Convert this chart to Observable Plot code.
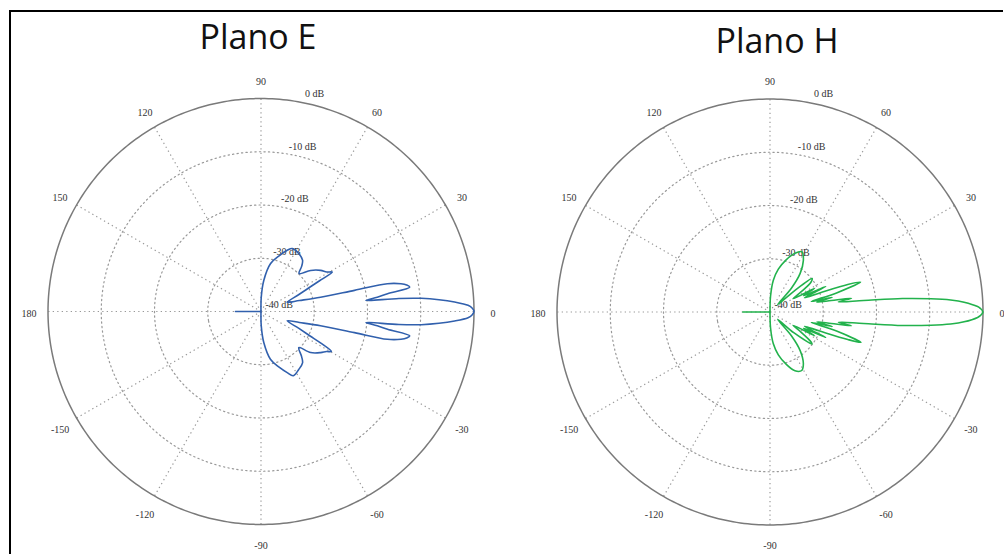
<!DOCTYPE html>
<html>
<head>
<meta charset="utf-8">
<script src="https://cdn.jsdelivr.net/npm/d3@7"></script>
<script src="https://cdn.jsdelivr.net/npm/@observablehq/plot@0.6"></script>
<style>
  html, body { margin: 0; padding: 0; background: #fff; }
  body { width: 1004px; height: 554px; overflow: hidden; position: relative; font-family: "Open Sans", sans-serif; }
  #frame { position: absolute; left: 9px; top: 10px; width: 992px; height: 560px; border-left: 2px solid #000; border-top: 2px solid #000; }
  .title { position: absolute; font-size: 34px; line-height: 34px; color: #111; white-space: nowrap; transform: translateX(-50%); }
  .plot { position: absolute; top: 60px; }
</style>
</head>
<body>
<div id="frame"></div>
<div class="title" style="left:258px; top:19px;">Plano E</div>
<div class="title" style="left:777px; top:23px;">Plano H</div>
<div id="plotE" class="plot" style="left:0px;"></div>
<div id="plotH" class="plot" style="left:510px;"></div>
<script>
// ---- data ----
const dbMin = -40;
const angleTicks = [0, 30, 60, 90, 120, 150, 180, -150, -120, -90, -60, -30];
const angleTickLabels = ["0", "30", "60", "90", "120", "150", "180", "-150", "-120", "-90", "-60", "-30"];
const ringDb = [0, -10, -20, -30, -40];
const ringLabels = ["0 dB", "-10 dB", "-20 dB", "-30 dB", "-40 dB"];

// Plano E (angle in degrees, level in dB)
const eAngle = [-180, -178, -92, -89, -84.8, -78.7, -72, -66.8, -63.3, -57, -51, -48, -43.6, -39.6, -34.6, -31.5, -29.6, -27.9, -26.5, -24.1, -19.5, -16, -13.5, -12.75, -12.4, -11.2, -10.3, -9.3, -8, -7, -6, -5.4, -4.7, -3.8, -2.8, -1.7, -1,
  0, 1, 1.7, 2.8, 3.8, 4.7, 5.4, 6, 7, 8, 9.3, 10.3, 11.2, 12.4, 12.75, 13.5, 16, 19.5, 24.1, 26.5, 27.9, 28.9, 31, 34.6, 39.6, 44.9, 48, 51, 57, 63.5, 66.8, 72, 78.7, 84.8, 89, 92, 178, 180];
const eDb = [-35.2, -40, -40, -37.3, -34.1, -30.8, -29, -27.5, -26.5, -27, -27.6, -28.6, -30.2, -27.9, -26.4, -25.6, -24.8, -27.2, -29.7, -32.2, -34.8, -32.5, -28.5, -22, -15.7, -13.2, -12.2, -11.7, -16, -18, -20.2, -14, -9.8, -6.5, -3.6, -1.1, -0.4,
  0, -0.4, -1.1, -3.6, -6.5, -9.8, -14, -20.2, -18, -16, -11.7, -12.2, -13.2, -15.7, -22, -28.5, -32.5, -34.8, -32.2, -29.7, -27.2, -24.7, -25.6, -26.4, -27.9, -29.9, -28.6, -27.6, -27, -26.8, -27.5, -29, -30.8, -34.1, -37.3, -40, -40, -35.2];

// Plano H (angle in degrees, level in dB)
const hAngle = [-180, -178, -92, -88, -84, -79, -73, -67, -61.5, -57, -52, -48, -44, -41, -37.3, -36, -33, -30, -28, -26, -24.5, -22.5, -21, -19.5, -18.5, -16, -14.2, -13.2, -12, -10.8, -9.6, -8.5, -7, -5.8, -4.7, -3.8, -2.9, -1.5, -1,
  0, 1, 1.5, 2.9, 3.8, 4.7, 5.8, 7, 8.5, 9.6, 10.8, 12, 13.2, 14.2, 16, 18.3, 19.5, 21, 22.5, 24.5, 26, 28, 30, 33, 36, 38.5, 41, 44, 48, 52, 57, 62, 67, 73, 79, 84, 88, 92, 178, 180];
const hDb = [-34.9, -40, -40, -37, -34, -31.8, -29.8, -28, -27.5, -28.5, -30.8, -34, -38, -34, -30.1, -30.5, -33, -35, -30.5, -33, -28.5, -33, -30, -24.5, -22, -27, -32, -28, -31, -29, -24.5, -27, -22.3, -15, -9.7, -6, -3.5, -1, -0.5,
  0, -0.5, -1, -3.5, -6, -9.7, -15, -22.3, -27, -24.5, -29, -31, -28, -32, -27, -22.1, -24.5, -30, -33, -28.5, -33, -30.5, -35, -33, -30.5, -29.9, -34, -38, -34, -30.8, -28.5, -27.2, -28, -29.8, -31.8, -34, -37, -40, -40, -34.9];

// ---- drawing ----
const lon = a => a + 90;                                  // polar angle -> longitude
const lat = db => 90 - (Math.max(db, dbMin) - dbMin);     // level -> latitude (pole = dbMin)
const ring = db => d3.geoCircle().center([0, 90]).radius(db - dbMin).precision(1)();
const labelColat = 43.57;

function polarPlot(angles, dbs, color, m) {
  const pts = angles.map((a, i) => ({a, db: dbs[i]}));
  return Plot.plot({
    width: m.width,
    height: 494,
    marginLeft: m.left,
    marginRight: m.width - m.left - 426,
    marginTop: m.top,
    marginBottom: 494 - m.top - 426,
    projection: {type: "azimuthal-equidistant", rotate: [0, -90], domain: ring(0), clip: null},
    style: {fontFamily: "'Liberation Serif', serif", fontSize: "10px", color: "#333", background: "transparent", overflow: "visible"},
    marks: [
      Plot.geo(ringDb.filter(d => d > dbMin && d < 0), {geometry: ring, stroke: "#999", strokeWidth: 1.2, strokeDasharray: "1.3,3.2"}),
      Plot.link(angleTicks, {x1: lon, y1: () => 90, x2: lon, y2: () => lat(0), stroke: "#999", strokeWidth: 1.2, strokeDasharray: "1.3,3.2"}),
      Plot.geo([0], {geometry: ring, stroke: "#7a7a7a", strokeWidth: 1.5}),
      Plot.text(angleTicks, {x: lon, y: () => 90 - labelColat, text: (d, i) => angleTickLabels[i], fill: "#333", dy: 2}),
      Plot.text(ringDb, {x: () => lon(81.6), y: d => lat(d), text: (d, i) => ringLabels[i], fill: "#333", textAnchor: "end", dx: 32, dy: -7}),
      Plot.line(pts, {x: d => lon(d.a), y: d => lat(d.db), stroke: color, strokeWidth: 1.6, curve: "catmull-rom"})
    ]
  });
}

document.getElementById("plotE").append(polarPlot(eAngle, eDb, "#3160ad", {width: 510, left: 47.5, top: 38}));
document.getElementById("plotH").append(polarPlot(hAngle, hDb, "#22b24c", {width: 494, left: 46.5, top: 38.5}));
</script>
</body>
</html>
